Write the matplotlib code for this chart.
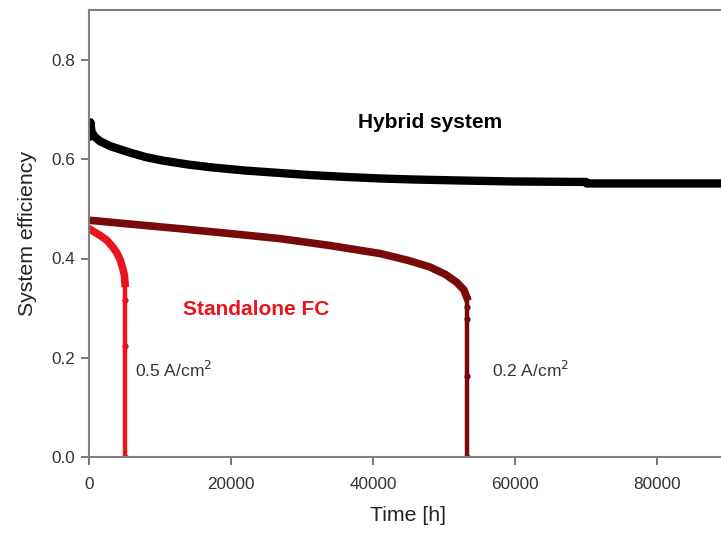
import numpy as np
import matplotlib.pyplot as plt

plt.rcParams['font.family'] = ['Liberation Sans', 'DejaVu Sans']

# Hybrid system efficiency
t_hybrid = [0, 100, 200, 350, 800, 1550, 3000, 4500, 5800, 8000, 10400,
            14000, 17500, 22000, 26900, 31000, 36300, 41000, 45600, 52000,
            59700, 70000, 70100, 80000, 90000]
eff_hybrid = [0.652, 0.645, 0.674, 0.655, 0.645, 0.636, 0.626, 0.619, 0.613,
              0.604, 0.597, 0.589, 0.583, 0.577, 0.572, 0.568, 0.564, 0.561,
              0.559, 0.557, 0.555, 0.554, 0.551, 0.551, 0.551]

# Standalone FC, 0.2 A/cm2
t_02 = [0, 6000, 12800, 20000, 26900, 34000, 41000, 45000, 48000, 50200,
        51800, 52800, 53200, 53200, 53200, 53200, 53200]
eff_02 = [0.477, 0.469, 0.46, 0.45, 0.44, 0.426, 0.41, 0.396, 0.383, 0.368,
          0.352, 0.337, 0.322, 0.303, 0.279, 0.164, 0.0]

# Standalone FC, 0.5 A/cm2
t_05 = [0, 800, 1600, 2500, 3300, 3900, 4400, 4800, 5000, 5070, 5070, 5070,
        5070]
eff_05 = [0.46, 0.453, 0.446, 0.437, 0.424, 0.412, 0.397, 0.378, 0.365, 0.35,
          0.316, 0.224, 0.0]

red = '#ea141c'
dark_red = '#780a0a'

fig = plt.figure(figsize=(7.21, 5.35), dpi=100)
ax = fig.add_axes([89 / 721, 77.7 / 535, 639 / 721, 447.3 / 535])

ax.plot(t_hybrid, eff_hybrid, color='black', lw=6, solid_joinstyle='round')

# curved part thick, vertical drop thinner
n02 = 13
ax.plot(t_02[:n02], eff_02[:n02], color=dark_red, lw=5.5,
        solid_joinstyle='round')
ax.plot(t_02[n02 - 1:], eff_02[n02 - 1:], color=dark_red, lw=3.2,
        marker='o', ms=3.5)
n05 = 10
ax.plot(t_05[:n05], eff_05[:n05], color=red, lw=5.5, solid_joinstyle='round')
ax.plot(t_05[n05 - 1:], eff_05[n05 - 1:], color=red, lw=3.2,
        marker='o', ms=3.5)

ax.set_xlim(0, 90000)
ax.set_ylim(0, 0.9)
ax.set_xticks([0, 20000, 40000, 60000, 80000])
ax.set_yticks([0.0, 0.2, 0.4, 0.6, 0.8])
ax.set_yticklabels(['0.0', '0.2', '0.4', '0.6', '0.8'])

for s in ax.spines.values():
    s.set_color('#808080')
    s.set_linewidth(1.5)
ax.tick_params(direction='out', length=6, width=1.2, color='#606060',
               labelsize=12.3, labelcolor='#333333')
ax.tick_params(axis='x', pad=8)
ax.tick_params(axis='y', pad=4)

ax.set_xlabel('Time [h]', fontsize=15.3, color='#222222', labelpad=10)
ax.set_ylabel('System efficiency', fontsize=15.3, color='#222222',
              labelpad=10)

ax.text(0.421, 0.748, 'Hybrid system', transform=ax.transAxes, fontsize=15,
        fontweight='bold', ha='left', va='center')
ax.text(0.147, 0.33, 'Standalone FC', transform=ax.transAxes, fontsize=15,
        fontweight='bold', color=red, ha='left', va='center')
ax.text(0.072, 0.195, '0.5 A/cm$^2$', transform=ax.transAxes, fontsize=12.5,
        color='#333333', ha='left', va='center')
ax.text(0.63, 0.195, '0.2 A/cm$^2$', transform=ax.transAxes, fontsize=12.5,
        color='#333333', ha='left', va='center')

fig.savefig('out.png', dpi=100)
